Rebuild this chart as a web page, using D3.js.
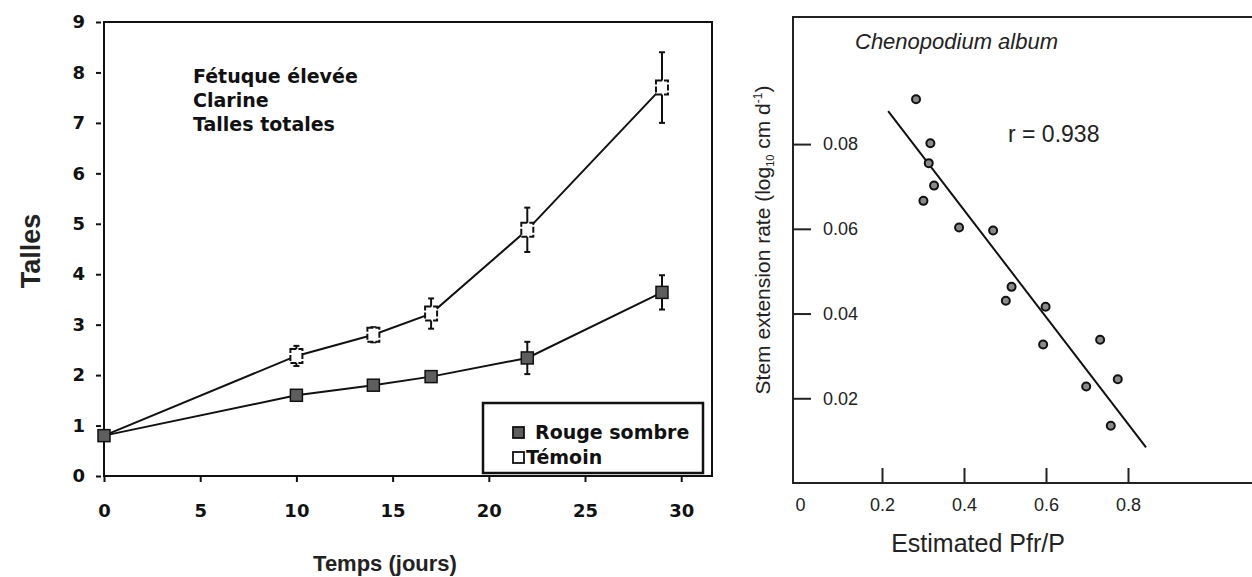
<!DOCTYPE html>
<html>
<head>
<meta charset="utf-8">
<script src="https://cdn.jsdelivr.net/npm/d3@7"></script>
<style>
  body { margin: 0; background: #fff; }
  .bold-text { font-family: "DejaVu Sans", sans-serif; font-weight: bold; fill: #111; }
  .plain-text { font-family: "Liberation Sans", Arial, sans-serif; fill: #222; }
</style>
</head>
<body>
<div id="chart"></div>
<script>
// Define SVG area dimensions
var svgWidth = 1252;
var svgHeight = 577;

// ---- left chart data (Talles vs Temps) ----
var days = [0, 10, 14, 17, 22, 29];
var rougeMeans = [0.8, 1.6, 1.8, 1.97, 2.34, 3.64];
var rougeErr = [0.1, 0, 0, 0, 0.32, 0.34];
var temoinMeans = [0.8, 2.38, 2.8, 3.22, 4.88, 7.7];
var temoinErr = [0, 0.2, 0.15, 0.3, 0.44, 0.7];
var tallesTicks = [0, 1, 2, 3, 4, 5, 6, 7, 8, 9];
var tempsTicks = [0, 5, 10, 15, 20, 25, 30];
var noteLines = ["Fétuque élevée", "Clarine", "Talles totales"];
var legendLabels = ["Rouge sombre", "Témoin"];

// ---- right chart data (Chenopodium album) ----
var pfrValues = [0.283, 0.318, 0.314, 0.327, 0.301, 0.388, 0.471, 0.516, 0.502, 0.599, 0.593, 0.732, 0.775, 0.698, 0.758];
var stemRates = [0.0906, 0.0802, 0.0755, 0.0702, 0.0666, 0.0603, 0.0596, 0.0463, 0.0430, 0.0416, 0.0327, 0.0338, 0.0245, 0.0228, 0.0135];
var fitPfr = [0.215, 0.844];
var fitRate = [0.0878, 0.0084];
var rateTicks = [0.02, 0.04, 0.06, 0.08];
var pfrTicks = [0, 0.2, 0.4, 0.6, 0.8];

var svg = d3.select("#chart")
  .append("svg")
  .attr("width", svgWidth)
  .attr("height", svgHeight);

// =========================== LEFT CHART ===========================
var xLeft = d3.scaleLinear().domain([0, 31.6]).range([104, 712]);
var yLeft = d3.scaleLinear().domain([0, 9]).range([476, 22]);

var left = svg.append("g");

// frame: left axis, bottom axis, top and right border
left.append("rect")
  .attr("x", xLeft(0))
  .attr("y", yLeft(9))
  .attr("width", xLeft(31.6) - xLeft(0))
  .attr("height", yLeft(0) - yLeft(9))
  .attr("fill", "none")
  .attr("stroke", "#111")
  .attr("stroke-width", 2);

// y axis ticks (small dashes outside the frame)
var leftAxisY = left.append("g")
  .attr("transform", `translate(${xLeft(0) - 3}, 0)`)
  .call(d3.axisLeft(yLeft).tickValues(tallesTicks).tickSize(5).tickPadding(11).tickFormat(d3.format("d")));
leftAxisY.select(".domain").remove();
leftAxisY.selectAll("line").attr("stroke", "#111").attr("stroke-width", 2);
leftAxisY.selectAll("text")
  .attr("class", "bold-text")
  .attr("font-size", "18px");

// x axis ticks
var leftAxisX = left.append("g")
  .attr("transform", `translate(0, ${yLeft(0)})`)
  .call(d3.axisBottom(xLeft).tickValues(tempsTicks).tickSize(6).tickPadding(22).tickFormat(d3.format("d")));
leftAxisX.select(".domain").remove();
leftAxisX.selectAll("line").attr("stroke", "#111").attr("stroke-width", 2);
leftAxisX.selectAll("text")
  .attr("class", "bold-text")
  .attr("font-size", "18px");

// axis titles
left.append("text")
  .attr("transform", "translate(40, 251) rotate(-90)")
  .attr("text-anchor", "middle")
  .attr("class", "plain-text")
  .attr("font-weight", "bold")
  .attr("font-size", "27px")
  .attr("fill", "#111")
  .text("Talles");

left.append("text")
  .attr("x", 385)
  .attr("y", 571)
  .attr("text-anchor", "middle")
  .attr("class", "plain-text")
  .attr("font-weight", "bold")
  .attr("font-size", "22px")
  .attr("fill", "#111")
  .text("Temps (jours)");

// annotation block
left.selectAll(".note")
  .data(noteLines)
  .enter()
  .append("text")
  .attr("class", "bold-text note")
  .attr("x", 193)
  .attr("y", (d, i) => 83 + i * 24)
  .attr("font-size", "19px")
  .text(d => d);

// build series objects for drawing
var rougeData = days.map((d, i) => ({ day: d, mean: rougeMeans[i], err: rougeErr[i] }));
var temoinData = days.map((d, i) => ({ day: d, mean: temoinMeans[i], err: temoinErr[i] }));

var lineGen = d3.line()
  .x(d => xLeft(d.day))
  .y(d => yLeft(d.mean));

[temoinData, rougeData].forEach(function(series) {
  left.append("path")
    .datum(series)
    .attr("d", lineGen)
    .attr("fill", "none")
    .attr("stroke", "#111")
    .attr("stroke-width", 2);
});

// error bars
function drawErrors(series) {
  var bars = left.selectAll(null)
    .data(series.filter(d => d.err > 0))
    .enter()
    .append("g");
  bars.append("line")
    .attr("x1", d => xLeft(d.day))
    .attr("x2", d => xLeft(d.day))
    .attr("y1", d => yLeft(d.mean + d.err))
    .attr("y2", d => yLeft(d.mean - d.err))
    .attr("stroke", "#111")
    .attr("stroke-width", 2);
  [1, -1].forEach(function(s) {
    bars.append("line")
      .attr("x1", d => xLeft(d.day) - 3)
      .attr("x2", d => xLeft(d.day) + 3)
      .attr("y1", d => yLeft(d.mean + s * d.err))
      .attr("y2", d => yLeft(d.mean + s * d.err))
      .attr("stroke", "#111")
      .attr("stroke-width", 2);
  });
}
drawErrors(temoinData);
drawErrors(rougeData);

// open squares (Témoin), skipping the shared first point
left.selectAll(null)
  .data(temoinData.slice(1))
  .enter()
  .append("rect")
  .attr("x", d => xLeft(d.day) - 6)
  .attr("y", d => yLeft(d.mean) - 7)
  .attr("width", 12)
  .attr("height", 14)
  .attr("fill", "#fff")
  .attr("stroke", "#111")
  .attr("stroke-width", 2)
  .attr("stroke-dasharray", "6,2");

// filled squares (Rouge sombre)
left.selectAll(null)
  .data(rougeData)
  .enter()
  .append("rect")
  .attr("x", d => xLeft(d.day) - 6)
  .attr("y", d => yLeft(d.mean) - 6)
  .attr("width", 12)
  .attr("height", 12)
  .attr("fill", "#5e5e5e")
  .attr("stroke", "#111")
  .attr("stroke-width", 1.5);

// legend
var legend = left.append("g");
legend.append("rect")
  .attr("x", 483)
  .attr("y", 403)
  .attr("width", 220)
  .attr("height", 70)
  .attr("fill", "#fff")
  .attr("stroke", "#111")
  .attr("stroke-width", 2.5);

legend.selectAll(".legend-mark")
  .data(legendLabels)
  .enter()
  .append("rect")
  .attr("class", "legend-mark")
  .attr("x", 513)
  .attr("y", (d, i) => 427 + i * 25)
  .attr("width", 11)
  .attr("height", 11)
  .attr("fill", (d, i) => i === 0 ? "#5e5e5e" : "#fff")
  .attr("stroke", "#111")
  .attr("stroke-width", 1.8);

legend.selectAll(".legend-text")
  .data(legendLabels)
  .enter()
  .append("text")
  .attr("class", "bold-text legend-text")
  .attr("x", (d, i) => i === 0 ? 535 : 526)
  .attr("y", (d, i) => 439 + i * 25)
  .attr("font-size", "19px")
  .text(d => d);

// =========================== RIGHT CHART ===========================
var xRight = d3.scaleLinear().domain([0, 1]).range([800, 1210]);
var yRight = d3.scaleLinear().domain([0, 0.11]).range([483, 17]);
var frameLeft = xRight(0) - 7;

var right = svg.append("g");

// frame lines (left, bottom, top; right side runs off the page)
right.append("path")
  .attr("d", `M${svgWidth + 10},${yRight(0.11)} H${frameLeft} V${yRight(0)} H${svgWidth + 10}`)
  .attr("fill", "none")
  .attr("stroke", "#222")
  .attr("stroke-width", 2);

// y axis: ticks pointing inward, labels inside the frame
var rightAxisY = right.append("g")
  .attr("transform", `translate(${frameLeft}, 0)`)
  .call(d3.axisRight(yRight).tickValues(rateTicks).tickSize(18).tickPadding(12).tickFormat(d3.format(".2f")));
rightAxisY.select(".domain").remove();
rightAxisY.selectAll("line").attr("stroke", "#222").attr("stroke-width", 2);
rightAxisY.selectAll("text")
  .attr("class", "plain-text")
  .attr("font-size", "18px");

// x axis: ticks pointing up, labels below
var rightAxisX = right.append("g")
  .attr("transform", `translate(0, ${yRight(0)})`)
  .call(d3.axisBottom(xRight).tickValues(pfrTicks).tickSizeInner(-15).tickSizeOuter(0).tickPadding(15)
    .tickFormat(d => d === 0 ? "0" : d3.format(".1f")(d)));
rightAxisX.select(".domain").remove();
rightAxisX.selectAll("line").attr("stroke", "#222").attr("stroke-width", 2);
rightAxisX.selectAll(".tick").filter(d => d === 0).select("line").remove();
rightAxisX.selectAll("text")
  .attr("class", "plain-text")
  .attr("font-size", "18px");

// regression line
right.append("line")
  .attr("x1", xRight(fitPfr[0]))
  .attr("y1", yRight(fitRate[0]))
  .attr("x2", xRight(fitPfr[1]))
  .attr("y2", yRight(fitRate[1]))
  .attr("stroke", "#111")
  .attr("stroke-width", 2);

// scatter points
right.selectAll("circle")
  .data(pfrValues)
  .enter()
  .append("circle")
  .attr("cx", d => xRight(d))
  .attr("cy", (d, i) => yRight(stemRates[i]))
  .attr("r", 4)
  .attr("fill", "#8a8a8a")
  .attr("stroke", "#111")
  .attr("stroke-width", 2);

// titles and annotations
right.append("text")
  .attr("x", 855)
  .attr("y", 49)
  .attr("class", "plain-text")
  .attr("font-style", "italic")
  .attr("font-size", "22px")
  .text("Chenopodium album");

right.append("text")
  .attr("x", 1008)
  .attr("y", 142)
  .attr("class", "plain-text")
  .attr("font-size", "23px")
  .text("r = 0.938");

right.append("text")
  .attr("x", 978)
  .attr("y", 552)
  .attr("text-anchor", "middle")
  .attr("class", "plain-text")
  .attr("font-size", "25px")
  .text("Estimated Pfr/P");

var yTitle = right.append("text")
  .attr("transform", "translate(770, 240) rotate(-90)")
  .attr("text-anchor", "middle")
  .attr("class", "plain-text")
  .attr("font-size", "21px");
yTitle.append("tspan").text("Stem extension rate (log");
yTitle.append("tspan").attr("font-size", "11px").attr("dy", "4").text("10");
yTitle.append("tspan").attr("dy", "-4").text(" cm d");
yTitle.append("tspan").attr("font-size", "12px").attr("dy", "-8").text("-1");
yTitle.append("tspan").attr("dy", "8").text(")");
</script>
</body>
</html>
